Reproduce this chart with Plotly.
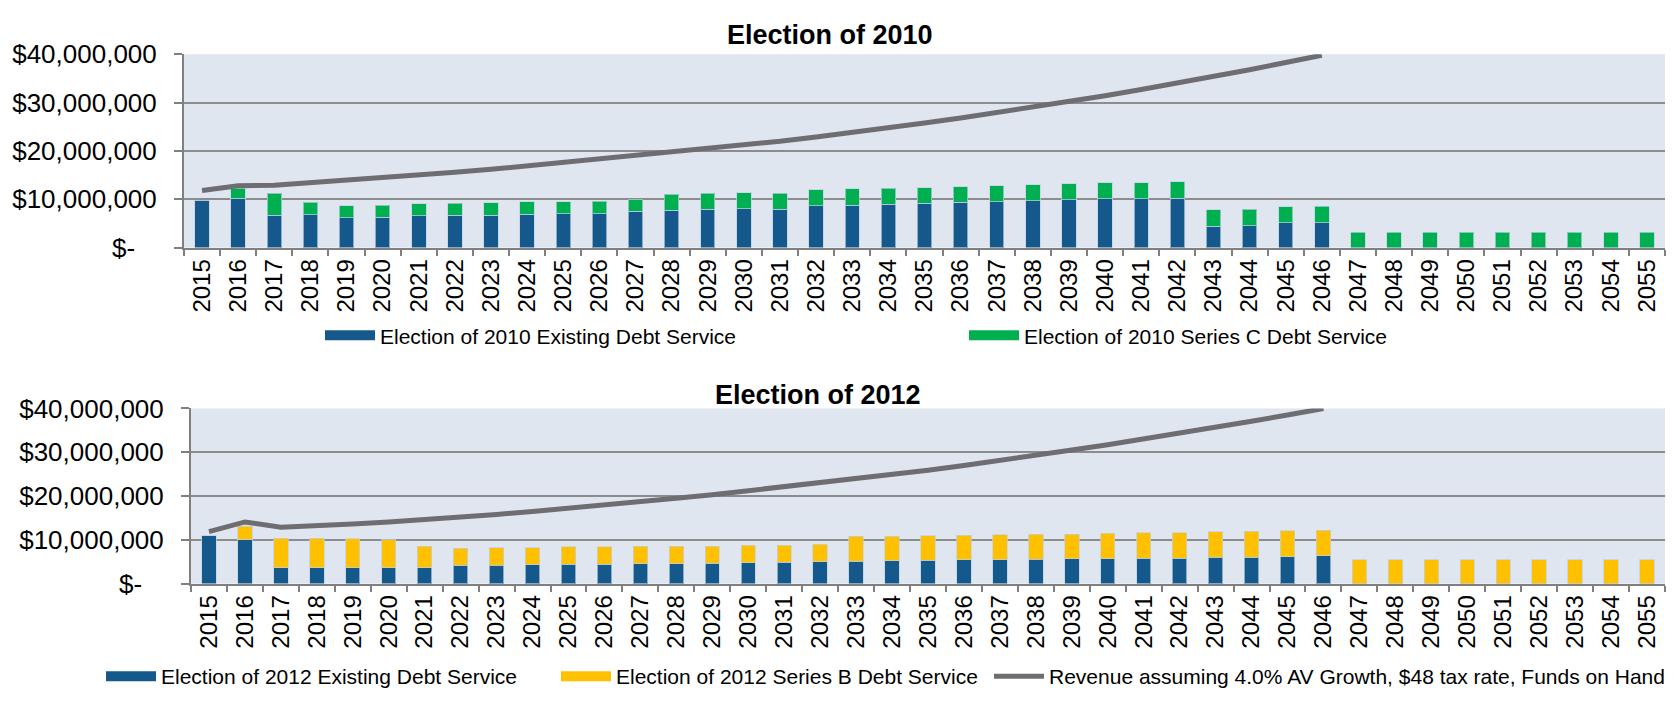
import plotly.graph_objects as go

years = ["2015", "2016", "2017", "2018", "2019", "2020", "2021", "2022", "2023", "2024",
         "2025", "2026", "2027", "2028", "2029", "2030", "2031", "2032", "2033", "2034",
         "2035", "2036", "2037", "2038", "2039", "2040", "2041", "2042", "2043", "2044",
         "2045", "2046", "2047", "2048", "2049", "2050", "2051", "2052", "2053", "2054", "2055"]
line_years = years[:32]

# Election of 2010 (millions of $)
e2010_existing = [9.8, 10.26, 6.7, 6.77, 6.18, 6.3, 6.57, 6.7, 6.7, 6.9,
                  6.97, 7.03, 7.56, 7.76, 7.9, 8.09, 7.95, 8.62, 8.75, 8.95,
                  9.14, 9.34, 9.54, 9.74, 9.87, 10.07, 10.07, 10.26, 4.4, 4.53,
                  5.12, 5.12, 0, 0, 0, 0, 0, 0, 0, 0, 0]
e2010_seriesC = [0, 2.0, 4.6, 2.57, 2.5, 2.5, 2.5, 2.44, 2.57, 2.57,
                 2.5, 2.57, 2.5, 3.29, 3.35, 3.29, 3.35, 3.36, 3.43, 3.29,
                 3.3, 3.3, 3.29, 3.29, 3.36, 3.35, 3.35, 3.36, 3.43, 3.37,
                 3.36, 3.43, 3.2, 3.2, 3.2, 3.2, 3.2, 3.2, 3.2, 3.2, 3.2]
e2010_revenue = [11.8, 12.8, 12.9, 13.4, 13.9, 14.4, 15.0, 15.6, 16.2, 16.9,
                 17.6, 18.3, 19.0, 19.7, 20.4, 21.2, 22.0, 22.9, 23.8, 24.8,
                 25.8, 26.8, 27.9, 29.0, 30.2, 31.4, 32.7, 34.0, 35.4, 36.8,
                 38.3, 39.8]

# Election of 2012 (millions of $)
e2012_existing = [10.95, 10.0, 3.6, 3.6, 3.6, 3.6, 3.6, 4.2, 4.25, 4.3,
                  4.4, 4.45, 4.5, 4.6, 4.7, 4.8, 4.9, 5.0, 5.1, 5.2,
                  5.3, 5.45, 5.5, 5.6, 5.65, 5.7, 5.8, 5.85, 6.0, 6.0,
                  6.2, 6.35, 0, 0, 0, 0, 0, 0, 0, 0, 0]
e2012_seriesB = [0, 3.13, 6.76, 6.76, 6.7, 6.47, 5.0, 3.9, 3.93, 3.95,
                 4.0, 4.02, 4.1, 4.0, 3.9, 4.03, 3.93, 3.98, 5.7, 5.65,
                 5.62, 5.6, 5.63, 5.68, 5.65, 5.8, 5.85, 5.83, 5.82, 5.95,
                 5.88, 5.83, 5.45, 5.45, 5.45, 5.45, 5.45, 5.45, 5.45, 5.45, 5.45]
e2012_revenue = [11.9, 14.1, 12.9, 13.2, 13.6, 14.1, 14.6, 15.2, 15.8, 16.5,
                 17.2, 17.9, 18.7, 19.5, 20.3, 21.2, 22.1, 23.0, 23.9, 24.9,
                 25.9, 27.0, 28.1, 29.3, 30.5, 31.7, 33.0, 34.3, 35.7, 37.1,
                 38.5, 40.0]

tick_vals = [0, 10e6, 20e6, 30e6, 40e6]
tick_text = ["$-\u00a0\u00a0\u00a0", "$10,000,000", "$20,000,000", "$30,000,000", "$40,000,000"]

names = {
    "e10x": "Election of 2010 Existing Debt Service",
    "e10c": "Election of 2010 Series C Debt Service",
    "e12x": "Election of 2012 Existing Debt Service",
    "e12b": "Election of 2012 Series B Debt Service",
    "rev": "Revenue assuming 4.0% AV Growth, $48 tax rate, Funds on Hand",
}

BLUE = "#14588C"
GREEN = "#00B050"
YELLOW = "#FFC000"
LINE = "#6E6E72"
GRID = "#8C8C8C"
AXIS = "#808080"
BG = "#DFE6F0"
FONT = "Liberation Sans, Arial, sans-serif"

def m(vals):
    return [v * 1e6 for v in vals]

edge = dict(width=1, color="rgba(190,210,230,0.7)")

fig = go.Figure()

# ---- Top chart
fig.add_trace(go.Bar(x=years, y=m(e2010_existing), marker=dict(color=BLUE, line=edge),
                     xaxis="x", yaxis="y", showlegend=False, width=0.4))
fig.add_trace(go.Bar(x=years, y=m(e2010_seriesC), marker=dict(color=GREEN, line=edge),
                     xaxis="x", yaxis="y", showlegend=False, width=0.4))
fig.add_trace(go.Scatter(x=line_years, y=m(e2010_revenue), mode="lines",
                         line=dict(color=LINE, width=5), xaxis="x", yaxis="y", showlegend=False))

# ---- Bottom chart
fig.add_trace(go.Bar(x=years, y=m(e2012_existing), marker=dict(color=BLUE, line=edge),
                     xaxis="x2", yaxis="y2", showlegend=False, width=0.4))
fig.add_trace(go.Bar(x=years, y=m(e2012_seriesB), marker=dict(color=YELLOW, line=edge),
                     xaxis="x2", yaxis="y2", showlegend=False, width=0.4))
fig.add_trace(go.Scatter(x=line_years, y=m(e2012_revenue), mode="lines",
                         line=dict(color=LINE, width=5), xaxis="x2", yaxis="y2", showlegend=False))

# ---- Legend entries (wide swatches like the original)
def legend_proxy(name, color, width, legend, xa, ya):
    fig.add_trace(go.Scatter(x=[None], y=[None], mode="lines", name=name,
                             line=dict(color=color, width=width), legend=legend,
                             xaxis=xa, yaxis=ya, showlegend=True))

legend_proxy(names["e10x"], BLUE, 12, "legend", "x", "y")
legend_proxy(names["e10c"], GREEN, 12, "legend2", "x", "y")
legend_proxy(names["e12x"], BLUE, 12, "legend3", "x2", "y2")
legend_proxy(names["e12b"], YELLOW, 12, "legend4", "x2", "y2")
legend_proxy(names["rev"], LINE, 5, "legend5", "x2", "y2")

W, H = 1677, 704

def leg(xpx, ypx):
    return dict(x=xpx / W, y=1 - ypx / H, xanchor="left", yanchor="middle",
                orientation="h", bgcolor="rgba(0,0,0,0)", itemwidth=50,
                font=dict(family=FONT, size=21, color="black"), itemclick=False)

xcommon = dict(type="category", tickangle=-90, ticks="outside", tickson="boundaries",
               ticklen=6, tickwidth=2, tickcolor=AXIS, showline=True, linecolor=AXIS,
               linewidth=2, showgrid=False, tickfont=dict(family=FONT, size=24, color="black"),
               fixedrange=True)
ycommon = dict(range=[0, 40e6], tickvals=tick_vals, ticktext=tick_text, ticks="outside",
               ticklen=8, tickwidth=2, tickcolor=AXIS, showline=True, linecolor=AXIS,
               linewidth=2, showgrid=True, gridcolor=GRID, gridwidth=2, zeroline=False,
               tickfont=dict(family=FONT, size=26, color="black"), ticklabelstandoff=12,
               fixedrange=True)

fig.update_layout(
    width=W, height=H, autosize=False,
    margin=dict(l=0, r=0, t=0, b=0),
    paper_bgcolor="white", plot_bgcolor=BG,
    barmode="stack", bargap=0.6,
    font=dict(family=FONT, color="black"),
    xaxis=dict(xcommon, domain=[184 / W, 1665 / W], anchor="y"),
    yaxis=dict(ycommon, domain=[1 - 243 / H, 1 - 41 / H], anchor="x"),
    xaxis2=dict(xcommon, domain=[191 / W, 1665 / W], anchor="y2"),
    yaxis2=dict(ycommon, domain=[1 - 594 / H, 1 - 411 / H], anchor="x2"),
    legend=leg(320, 335),
    legend2=leg(964, 335),
    legend3=leg(101, 691),
    legend4=leg(556, 691),
    legend5=leg(989, 691),
    annotations=[
        dict(text="<b>Election of 2010</b>", x=830 / W, y=1 - 21 / H, xref="paper", yref="paper",
             showarrow=False, xanchor="center", yanchor="middle",
             font=dict(family=FONT, size=27, color="black")),
        dict(text="<b>Election of 2012</b>", x=818 / W, y=1 - 397 / H, xref="paper", yref="paper",
             showarrow=False, xanchor="center", yanchor="middle",
             font=dict(family=FONT, size=27, color="black")),
    ],
)

fig.write_html("out.html", config={"displayModeBar": False},
               post_script="document.body.style.margin='0';document.body.style.overflow='hidden';")
